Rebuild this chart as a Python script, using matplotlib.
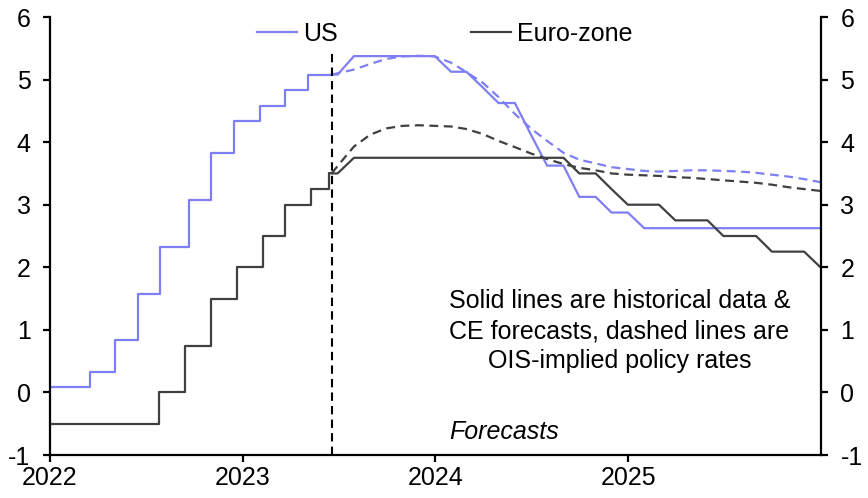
import pandas as pd
import matplotlib
matplotlib.use("Agg")
import matplotlib.pyplot as plt

plt.rcParams['font.family'] = ['Liberation Sans', 'DejaVu Sans']
plt.rcParams['axes.unicode_minus'] = False

# Historical policy rates (dates where the rate changed)
us_hist_dates = ["2022-01-01", "2022-03-17", "2022-05-05", "2022-06-16", "2022-07-28",
                 "2022-09-22", "2022-11-03", "2022-12-15", "2023-02-02", "2023-03-23",
                 "2023-05-04", "2023-06-19"]
us_hist_rates = [0.08, 0.33, 0.83, 1.58, 2.33, 3.08, 3.83, 4.33, 4.58, 4.83, 5.08, 5.08]

ez_hist_dates = ["2022-01-01", "2022-07-27", "2022-09-14", "2022-11-02", "2022-12-21",
                 "2023-02-08", "2023-03-22", "2023-05-10", "2023-06-14", "2023-06-19"]
ez_hist_rates = [-0.5, 0.0, 0.75, 1.5, 2.0, 2.5, 3.0, 3.25, 3.5, 3.5]

forecast_start = "2023-06-19"

# Month-end forecast dates (Jun 2023 - Dec 2025)
fc_dates = [forecast_start] + [d.strftime("%Y-%m-%d") for d in
                               pd.date_range("2023-06-30", "2025-12-31", freq="ME")]

# CE forecasts
us_ce = [5.08, 5.08, 5.375, 5.375, 5.375, 5.375, 5.375, 5.375,
         5.125, 5.125, 4.875, 4.625, 4.625, 4.125, 3.625, 3.625, 3.125, 3.125,
         2.875, 2.875,
         2.625, 2.625, 2.625, 2.625, 2.625, 2.625, 2.625, 2.625, 2.625, 2.625,
         2.625, 2.625]
ez_ce = [3.5, 3.5, 3.75, 3.75, 3.75, 3.75, 3.75, 3.75,
         3.75, 3.75, 3.75, 3.75, 3.75, 3.75, 3.75, 3.75, 3.5, 3.5,
         3.25, 3.0,
         3.0, 3.0, 2.75, 2.75, 2.75, 2.5, 2.5, 2.5, 2.25, 2.25,
         2.25, 2.0]

# OIS-implied policy rates
us_ois = [5.08, 5.10, 5.16, 5.25, 5.33, 5.37, 5.38, 5.37,
          5.27, 5.12, 4.95, 4.72, 4.45, 4.22, 4.02, 3.83, 3.72, 3.66,
          3.60, 3.57,
          3.54, 3.53, 3.54, 3.55, 3.55, 3.54, 3.53, 3.51, 3.48, 3.45,
          3.41, 3.36]
ez_ois = [3.5, 3.62, 3.93, 4.12, 4.22, 4.26, 4.27, 4.26,
          4.25, 4.21, 4.13, 4.02, 3.92, 3.82, 3.73, 3.65, 3.59, 3.55,
          3.50, 3.48,
          3.47, 3.46, 3.44, 3.43, 3.41, 3.39, 3.37, 3.35, 3.32, 3.28,
          3.25, 3.22]

us_colour = "#7f7ff5"
ez_colour = "#404040"

fig, ax = plt.subplots(figsize=(8.68, 4.98), dpi=100)
fig.subplots_adjust(left=50 / 868, right=821 / 868, top=1 - 17 / 498, bottom=1 - 455 / 498)

fc = pd.to_datetime(fc_dates)

ax.plot(pd.to_datetime(us_hist_dates), us_hist_rates, color=us_colour, lw=1.6,
        drawstyle="steps-post", label="US")
ax.plot(pd.to_datetime(ez_hist_dates), ez_hist_rates, color=ez_colour, lw=1.6,
        drawstyle="steps-post", label="Euro-zone")
ax.plot(fc, us_ce, color=us_colour, lw=1.6)
ax.plot(fc, ez_ce, color=ez_colour, lw=1.6)
ax.plot(fc, us_ois, color=us_colour, lw=1.6, ls=(0, (4, 2.5)))
ax.plot(fc, ez_ois, color=ez_colour, lw=1.6, ls=(0, (4, 2.5)))

# forecast divider stops below the legend
ax.axvline(pd.Timestamp(forecast_start), ymax=0.918, color="black", lw=1.5, ls=(0, (4, 2.5)))

ax.set_xlim(pd.Timestamp("2022-01-01"), pd.Timestamp("2026-01-01"))
ax.set_ylim(-1, 6)
years = ["2022", "2023", "2024", "2025"]
ax.set_xticks(pd.to_datetime([y + "-01-01" for y in years]))
ax.set_xticklabels(years)
ax.set_yticks(range(-1, 7))

ax.spines["top"].set_visible(False)
for s in ["left", "right", "bottom"]:
    ax.spines[s].set_linewidth(1.6)
ax.tick_params(axis="both", labelsize=18, length=5, width=1.6, direction="out")
ax.tick_params(axis="y", right=True, labelright=True, pad=9)
ax.tick_params(axis="x", pad=3)

ax.text(pd.Timestamp("2024-12-15"), 0.98,
        "Solid lines are historical data &\nCE forecasts, dashed lines are\nOIS-implied policy rates",
        ha="center", va="center", fontsize=18, linespacing=1.3)
ax.text(pd.Timestamp("2024-05-10"), -0.63, "Forecasts", ha="center", va="center",
        fontsize=18, style="italic")

ax.legend(loc="upper center", bbox_to_anchor=(0.512, 1.04), ncol=2, frameon=False,
          fontsize=18, handlelength=1.6, handletextpad=0.25, columnspacing=5.3)

fig.savefig("out.png", dpi=100)
